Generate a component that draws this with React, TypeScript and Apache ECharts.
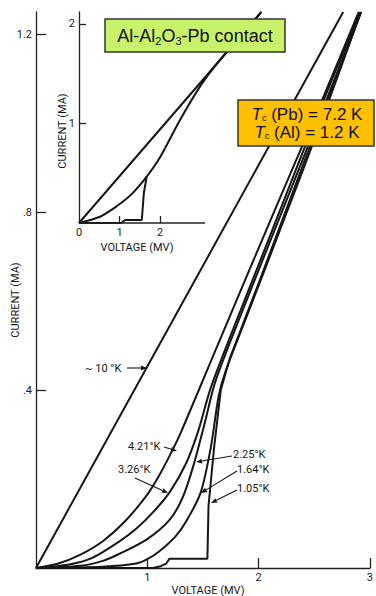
import React, { useEffect, useRef } from "react";
import * as echarts from "echarts";

// ---------- main chart data (voltage mV, current mA) ----------
const MAIN_V_TICKS = [1, 2, 3];
const MAIN_I_TICKS = [0.4, 0.8, 1.2];

const CURVE_10K = [[0, 0], [1, 0.453], [2, 0.906], [2.76, 1.25]];
const CURVE_421K = [[0, 0], [0.2, 0.01], [0.4, 0.03], [0.6, 0.06], [0.8, 0.105], [1.0, 0.165], [1.1, 0.205], [1.2, 0.252], [1.3, 0.304], [1.6, 0.482], [1.9, 0.66], [2.25, 0.866], [2.6, 1.07], [2.9, 1.25]];
const CURVE_326K = [[0, 0], [0.3, 0.008], [0.5, 0.022], [0.75, 0.06], [0.9, 0.088], [1.05, 0.125], [1.2, 0.17], [1.35, 0.236], [1.46, 0.31], [1.57, 0.405], [1.8, 0.555], [2.1, 0.745], [2.5, 1.0], [2.91, 1.25]];
const CURVE_225K = [[0, 0], [0.4, 0.005], [0.6, 0.016], [0.75, 0.032], [1.0, 0.065], [1.2, 0.108], [1.32, 0.16], [1.42, 0.235], [1.52, 0.33], [1.61, 0.418], [1.85, 0.575], [2.2, 0.795], [2.55, 1.015], [2.92, 1.25]];
const CURVE_164K = [[0, 0], [0.6, 0.003], [0.9, 0.01], [1.0, 0.02], [1.1, 0.036], [1.25, 0.07], [1.35, 0.105], [1.48, 0.17], [1.57, 0.27], [1.64, 0.385], [1.7, 0.44], [1.9, 0.57], [2.2, 0.765], [2.55, 0.995], [2.92, 1.25]];
const CURVE_105K = [[0, 0], [1.05, 0], [1.12, 0.004], [1.17, 0.01], [1.2, 0.021], [1.54, 0.021], [1.55, 0.14], [1.6, 0.27], [1.66, 0.4], [1.74, 0.47], [2.0, 0.64], [2.3, 0.84], [2.6, 1.04], [2.92, 1.25]];

// ---------- inset data ----------
const INSET_V_TICKS = [1, 2];
const INSET_V_LABELS = [0, 1, 2];
const INSET_I_TICKS = [1, 2];
const INSET_NORMAL = [[0, 0], [3.4, 1.6], [4.5, 2.12]];
const INSET_SMOOTH = [[0, 0], [0.5, 0.06], [0.9, 0.16], [1.3, 0.29], [1.67, 0.465], [2.0, 0.66], [2.5, 1.04], [3.0, 1.38], [3.4, 1.6], [4.5, 2.12]];
const INSET_STEP = [[0, 0], [1.04, 0], [1.14, 0.03], [1.55, 0.03], [1.6, 0.3], [1.67, 0.465]];

const INK = "#161616";
const FONT = "Roboto, 'DejaVu Sans', sans-serif";
const BOXFONT = "'Liberation Sans', Arial, sans-serif";

function arrow(x1: number, y1: number, x2: number, y2: number) {
  const dx = x2 - x1, dy = y2 - y1;
  const L = Math.hypot(dx, dy);
  const ux = dx / L, uy = dy / L;
  const hl = 6, hw = 2.4;
  const bx = x2 - ux * hl, by = y2 - uy * hl;
  return [
    { type: "line", z: 50, shape: { x1, y1, x2: bx, y2: by }, style: { stroke: INK, lineWidth: 1.1 } },
    { type: "polygon", z: 50, shape: { points: [[x2, y2], [bx - uy * hw, by + ux * hw], [bx + uy * hw, by - ux * hw]] }, style: { fill: INK } },
  ];
}

function label(text: string, x: number, y: number, align = "left") {
  return { type: "text", z: 50, x, y, style: { text, fill: INK, font: `11px ${FONT}`, align, verticalAlign: "middle" } };
}

function line(name: string, data: number[][], idx: number, smooth: number | boolean) {
  return {
    type: "line", name, data, xAxisIndex: idx, yAxisIndex: idx,
    showSymbol: false, symbol: "none", smooth, clip: false,
    lineStyle: { color: INK, width: 2 }, z: 2,
  };
}

const axisCommon = {
  axisLine: { show: true, lineStyle: { color: "#222", width: 1.3 } },
  splitLine: { show: false },
};

const tcRich = {
  t: { fontStyle: "italic", fontSize: 17, lineHeight: 16, fontFamily: BOXFONT, fill: "#111" },
  c: { fontSize: 9, lineHeight: 9, verticalAlign: "bottom", fontFamily: BOXFONT, fill: "#111" },
};

export default function App() {
  const ref = useRef<HTMLDivElement>(null);
  useEffect(() => {
    const chart = echarts.init(ref.current!, null, { renderer: "svg" });
    const option: any = {
      animation: false,
      backgroundColor: "#fff",
      grid: [
        { left: 36, top: 12, width: 336, height: 556 },
        { left: 79, top: 12, width: 186, height: 211 },
      ],
      xAxis: [
        {
          ...axisCommon, type: "value", gridIndex: 0, min: 0, max: 3,
          axisTick: { show: true, inside: true, length: 10, customValues: MAIN_V_TICKS, lineStyle: { color: "#222", width: 1.3 } },
          axisLabel: { customValues: MAIN_V_TICKS, margin: 4, fontSize: 11, color: "#222", fontFamily: FONT },
        },
        {
          type: "value", gridIndex: 1, min: 0, max: 4.59,
          splitLine: { show: false },
          axisLine: { show: false },
          axisTick: { show: true, inside: true, length: 7, customValues: INSET_V_TICKS, lineStyle: { color: "#222", width: 1.3 } },
          axisLabel: { customValues: INSET_V_LABELS, margin: 4, fontSize: 11, color: "#222", fontFamily: FONT },
        },
      ],
      yAxis: [
        {
          ...axisCommon, type: "value", gridIndex: 0, min: 0, max: 1.25,
          axisTick: { show: true, inside: true, length: 10, customValues: MAIN_I_TICKS, lineStyle: { color: "#222", width: 1.3 } },
          axisLabel: {
            customValues: MAIN_I_TICKS, margin: 4, fontSize: 11, color: "#222", fontFamily: FONT,
            formatter: (v: number) => (v < 1 ? "." + Math.round(v * 10) : String(v)),
          },
        },
        {
          ...axisCommon, type: "value", gridIndex: 1, min: 0, max: 2.12,
          axisTick: { show: true, inside: true, length: 7, customValues: INSET_I_TICKS, lineStyle: { color: "#222", width: 1.3 } },
          axisLabel: { customValues: INSET_I_TICKS, margin: 4, fontSize: 11, color: "#222", fontFamily: FONT },
        },
      ],
      series: [
        line("~10 °K", CURVE_10K, 0, false),
        line("4.21 °K", CURVE_421K, 0, 0.3),
        line("3.26 °K", CURVE_326K, 0, 0.3),
        line("2.25 °K", CURVE_225K, 0, 0.3),
        line("1.64 °K", CURVE_164K, 0, 0.25),
        line("1.05 °K", CURVE_105K, 0, false),
        line("inset normal", INSET_NORMAL, 1, false),
        line("inset smooth", INSET_SMOOTH, 1, 0.3),
        line("inset step", INSET_STEP, 1, false),
      ],
      graphic: [
        // inset voltage axis line (axis only drawn to ~3.1 mV)
        { type: "line", z: 3, shape: { x1: 79, y1: 223, x2: 205, y2: 223 }, style: { stroke: "#222", lineWidth: 1.3 } },
        // axis titles
        { type: "text", z: 50, x: 15, y: 300, rotation: Math.PI / 2, style: { text: "CURRENT (MA)", fill: INK, font: `11px ${FONT}`, align: "center", verticalAlign: "middle" } },
        { type: "text", z: 50, x: 208, y: 590, style: { text: "VOLTAGE (MV)", fill: INK, font: `11px ${FONT}`, align: "center", verticalAlign: "middle" } },
        { type: "text", z: 50, x: 62, y: 131, rotation: Math.PI / 2, style: { text: "CURRENT (MA)", fill: INK, font: `11px ${FONT}`, align: "center", verticalAlign: "middle" } },
        { type: "text", z: 50, x: 137, y: 247, style: { text: "VOLTAGE (MV)", fill: INK, font: `11px ${FONT}`, align: "center", verticalAlign: "middle" } },
        // curve annotations
        label("~ 10 °K", 85, 368),
        ...arrow(127, 368, 147, 368),
        label("4.21°K", 128, 446),
        ...arrow(164, 447, 177, 451),
        label("3.26°K", 118, 469),
        ...arrow(135, 478, 168, 493),
        label("2.25°K", 233, 454),
        ...arrow(232, 456, 196, 462),
        label("1.64°K", 237, 469),
        ...arrow(237, 471, 201, 493),
        label("1.05°K", 237, 488),
        ...arrow(237, 490, 211, 503),
        // green box
        { type: "rect", z: 100, shape: { x: 105, y: 19, width: 180, height: 33 }, style: { fill: "#c9f26b", stroke: "#333", lineWidth: 1.5 } },
        {
          type: "text", z: 101, x: 195, y: 36,
          style: {
            text: "Al-Al{s|2}O{s|3}-Pb contact", fill: "#111", fontFamily: BOXFONT, fontSize: 18,
            lineHeight: 20, align: "center", verticalAlign: "middle",
            rich: { s: { fontSize: 11, lineHeight: 11, verticalAlign: "bottom", fontFamily: BOXFONT, fill: "#111" } },
          },
        },
        // orange box
        { type: "rect", z: 100, shape: { x: 238, y: 100, width: 136, height: 46 }, style: { fill: "#ffc000", stroke: "#333", lineWidth: 1.5 } },
        {
          type: "text", z: 101, x: 307, y: 114,
          style: { text: "{t|T}{c|c} (Pb) = 7.2 K", fill: "#111", fontFamily: BOXFONT, fontSize: 17, lineHeight: 16, align: "center", verticalAlign: "middle", rich: tcRich },
        },
        {
          type: "text", z: 101, x: 307, y: 132,
          style: { text: "{t|T}{c|c} (Al) = 1.2 K", fill: "#111", fontFamily: BOXFONT, fontSize: 17, lineHeight: 16, align: "center", verticalAlign: "middle", rich: tcRich },
        },
      ],
    };
    chart.setOption(option);
    return () => chart.dispose();
  }, []);
  return <div ref={ref} style={{ position: "absolute", left: 0, top: 0, width: 376, height: 596, background: "#fff" }} />;
}
